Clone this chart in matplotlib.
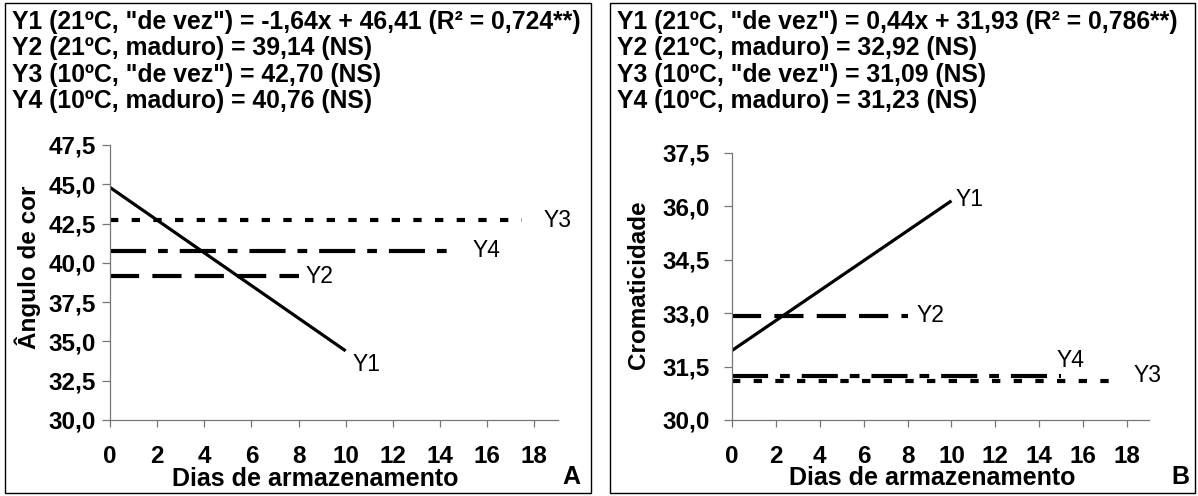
import matplotlib
matplotlib.use('Agg')
import matplotlib.pyplot as plt
from matplotlib.patches import Rectangle

plt.rcParams['font.family'] = ['Liberation Sans', 'DejaVu Sans']
plt.rcParams['lines.scale_dashes'] = False

W, H = 1198, 496

# dias de armazenamento
days = [0, 10]
x_ticks = [0, 2, 4, 6, 8, 10, 12, 14, 16, 18]

# painel A - angulo de cor
a_y1 = [44.8, 34.4]
a_y2 = 39.14
a_y3 = 42.70
a_y4 = 40.76
a_ends = {'Y2': 8.0, 'Y3': 17.5, 'Y4': 14.5}
a_yticks = [30.0, 32.5, 35.0, 37.5, 40.0, 42.5, 45.0, 47.5]

# painel B - cromaticidade
b_y1 = [31.95, 36.15]
b_y2 = 32.92
b_y3 = 31.09
b_y4 = 31.23
b_ends = {'Y2': 8.0, 'Y3': 17.6, 'Y4': 15.0}
b_yticks = [30.0, 31.5, 33.0, 34.5, 36.0, 37.5]

eq_a = ['Y1 (21ºC, "de vez") = -1,64x + 46,41 (R² = 0,724**)',
        'Y2 (21ºC, maduro) = 39,14 (NS)',
        'Y3 (10ºC, "de vez") = 42,70 (NS)',
        'Y4 (10ºC, maduro) = 40,76 (NS)']
eq_b = ['Y1 (21ºC, "de vez") = 0,44x + 31,93 (R² = 0,786**)',
        'Y2 (21ºC, maduro) = 32,92 (NS)',
        'Y3 (10ºC, "de vez") = 31,09 (NS)',
        'Y4 (10ºC, maduro) = 31,23 (NS)']

styles = {
    'Y2': dict(dashes=(21, 9.5), lw=3.0),
    'Y3': dict(dashes=(6, 9.6), lw=3.0),
    'Y4': dict(dashes=(26, 8.6, 7, 8.6), lw=3.0),
}

TICK_FS = 17.5
LBL_FS = 16.5


def px_axes(fig, left, right, top, bottom):
    return fig.add_axes([left / W, (H - bottom) / H,
                         (right - left) / W, (bottom - top) / H])


def fmt(v):
    return f'{v:.1f}'.replace('.', ',')


def style_axes(ax, yticks, ylim, ypad):
    ax.set_xlim(0, 19)
    ax.set_ylim(*ylim)
    for s in ['top', 'right']:
        ax.spines[s].set_visible(False)
    for s in ['left', 'bottom']:
        ax.spines[s].set_color('#777777')
        ax.spines[s].set_linewidth(0.9)
    ax.set_xticks(x_ticks)
    ax.set_xticklabels([str(t) for t in x_ticks], fontsize=TICK_FS, fontweight='bold')
    ax.set_yticks(yticks)
    ax.set_yticklabels([fmt(t) for t in yticks], fontsize=TICK_FS, fontweight='bold')
    ax.tick_params(axis='x', direction='out', length=5, width=0.9,
                   color='#777777', pad=13)
    ax.tick_params(axis='y', direction='out', length=6, width=0.9,
                   color='#777777', pad=ypad)
    ax.patch.set_alpha(0)


fig = plt.figure(figsize=(W / 100, H / 100), dpi=100)

# molduras
fig.patches.append(Rectangle((5 / W, 3 / H), 586 / W, 490 / H, fill=False,
                             edgecolor='black', lw=1.0, transform=fig.transFigure))
fig.patches.append(Rectangle((610 / W, 3 / H), 585 / W, 490 / H, fill=False,
                             edgecolor='black', lw=1.0, transform=fig.transFigure))

# ---- painel A
axA = px_axes(fig, 110, 557.7, 145, 420)
style_axes(axA, a_yticks, (30.0, 47.5), 4)
axA.plot(days, a_y1, color='black', lw=2.3, solid_capstyle='butt')
axA.plot([0, a_ends['Y2']], [a_y2, a_y2], color='black', **styles['Y2'])
axA.plot([0, a_ends['Y3']], [a_y3, a_y3], color='black', **styles['Y3'])
axA.plot([0, a_ends['Y4']], [a_y4, a_y4], color='black', **styles['Y4'])
axA.text(10.3, 33.5, 'Y1', fontsize=LBL_FS, va='center')
axA.text(8.3, a_y2, 'Y2', fontsize=LBL_FS, va='center')
axA.text(18.4, a_y3, 'Y3', fontsize=LBL_FS, va='center')
axA.text(15.4, a_y4, 'Y4', fontsize=LBL_FS, va='center')
axA.set_ylabel('Ângulo de cor', fontsize=17.5, fontweight='bold')
axA.yaxis.set_label_coords(-0.155, 0.556)
axA.set_xlabel('Dias de armazenamento', fontsize=18, fontweight='bold')
axA.xaxis.set_label_coords(0.458, -0.172)
fig.text(571 / W, 1 - 477 / H, 'A', fontsize=18, fontweight='bold',
         ha='center', va='center')

# ---- painel B
axB = px_axes(fig, 732, 1149, 152.7, 420)
style_axes(axB, b_yticks, (30.0, 37.5), 10)
axB.plot(days, b_y1, color='black', lw=2.3, solid_capstyle='butt')
axB.plot([0, b_ends['Y2']], [b_y2, b_y2], color='black', **styles['Y2'])
axB.plot([0, b_ends['Y3']], [b_y3, b_y3], color='black', **styles['Y3'])
axB.plot([0, b_ends['Y4']], [b_y4, b_y4], color='black', **styles['Y4'])
axB.text(10.2, 36.2, 'Y1', fontsize=LBL_FS, va='center')
axB.text(8.4, b_y2, 'Y2', fontsize=LBL_FS, va='center')
axB.text(18.3, 31.26, 'Y3', fontsize=LBL_FS, va='center')
axB.text(14.8, 31.68, 'Y4', fontsize=LBL_FS, va='center')
axB.set_ylabel('Cromaticidade', fontsize=17.5, fontweight='bold')
axB.yaxis.set_label_coords(-0.197, 0.505)
axB.set_xlabel('Dias de armazenamento', fontsize=18, fontweight='bold')
axB.xaxis.set_label_coords(0.48, -0.172)
fig.text(1180 / W, 1 - 477 / H, 'B', fontsize=18, fontweight='bold',
         ha='center', va='center')

# equacoes
for i, (ta, tb) in enumerate(zip(eq_a, eq_b)):
    yy = 1 - (22 + i * 26.3) / H
    fig.text(12 / W, yy, ta, fontsize=17.8, fontweight='bold', va='center')
    fig.text(617 / W, yy, tb, fontsize=17.8, fontweight='bold', va='center')

fig.savefig('out.png', dpi=100)
